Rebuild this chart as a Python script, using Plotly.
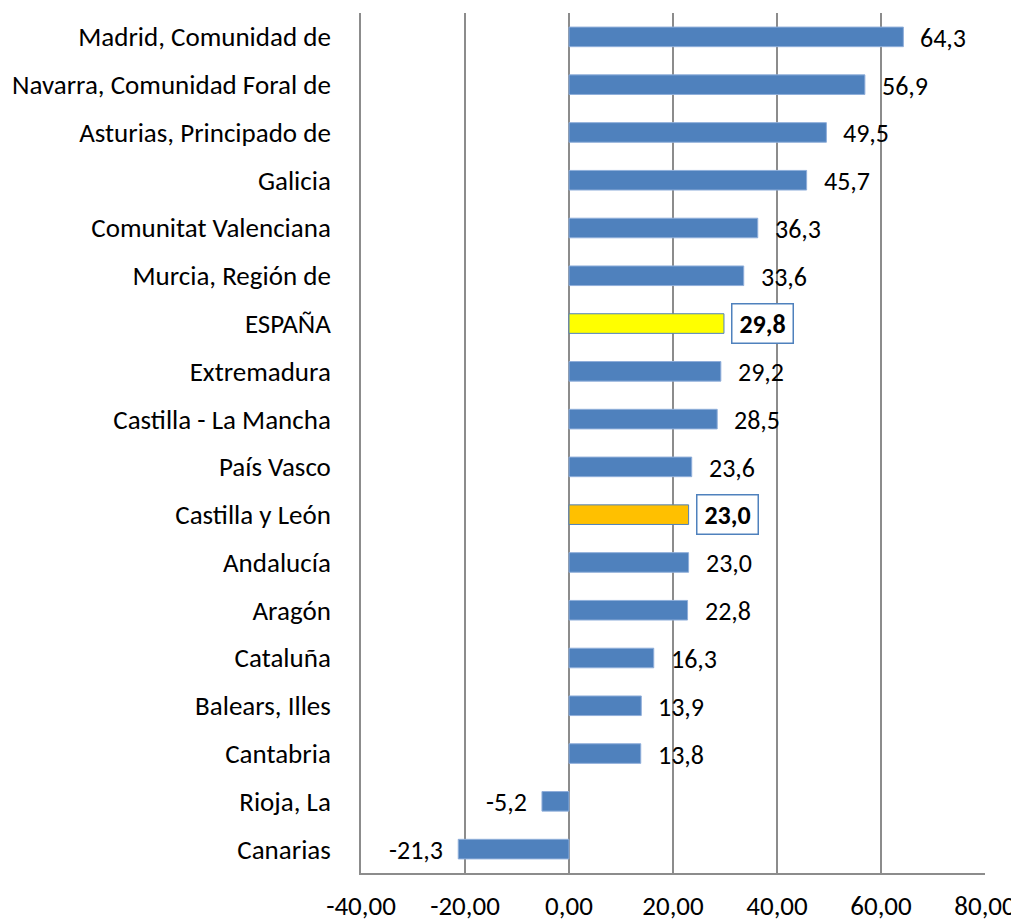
import plotly.graph_objects as go

regions = ["Madrid, Comunidad de", "Navarra, Comunidad Foral de", "Asturias, Principado de",
           "Galicia", "Comunitat Valenciana", "Murcia, Región de", "ESPAÑA", "Extremadura",
           "Castilla - La Mancha", "País Vasco", "Castilla y León", "Andalucía", "Aragón",
           "Cataluña", "Balears, Illes", "Cantabria", "Rioja, La", "Canarias"]
values = [64.3, 56.9, 49.5, 45.7, 36.3, 33.6, 29.8, 29.2, 28.5, 23.6, 23.0, 23.0, 22.8,
          16.3, 13.9, 13.8, -5.2, -21.3]
tick_vals = [-40, -20, 0, 20, 40, 60, 80]
tick_text = ["-40,00", "-20,00", "0,00", "20,00", "40,00", "60,00", "80,00"]

BLUE = "#4F81BD"
highlight = {"ESPAÑA": "#FFFF00", "Castilla y León": "#FFC000"}
FONT = "Carlito, Lato, sans-serif"
GRID = "#8C8C8C"

colors = [highlight.get(r, BLUE) for r in regions]
line_colors = [BLUE if r in highlight else "#8FAEDA" for r in regions]

fig = go.Figure(go.Bar(
    x=values, y=regions, orientation="h", width=0.41,
    marker=dict(color=colors, line=dict(color=line_colors, width=1)),
    hoverinfo="skip",
))

def fmt(v):
    return f"{v:.1f}".replace(".", ",")

for r, v in zip(regions, values):
    if r in highlight:
        fig.add_annotation(x=v, y=r, text=f"<b>{fmt(v)}</b>", showarrow=False,
                           xanchor="left", xshift=7, yshift=0, width=50, height=28,
                           font=dict(family=FONT, size=26, color="black"),
                           bordercolor=BLUE, borderwidth=1.5, borderpad=5, bgcolor="white")
    elif v >= 0:
        fig.add_annotation(x=v, y=r, text=fmt(v), showarrow=False,
                           xanchor="left", xshift=15, yshift=-1,
                           font=dict(family=FONT, size=26, color="black"))
    else:
        fig.add_annotation(x=v, y=r, text=fmt(v), showarrow=False,
                           xanchor="right", xshift=-13, yshift=-1,
                           font=dict(family=FONT, size=26, color="black"))

# the page body adds an 8px offset, so the figure is 8px smaller on each side
fig.update_layout(
    width=1011, height=911,
    margin=dict(l=353, r=34, t=5, b=46),
    paper_bgcolor="white", plot_bgcolor="white",
    font=dict(family=FONT, size=26, color="black"),
    showlegend=False,
    xaxis=dict(range=[-40, 80], tickvals=tick_vals, ticktext=tick_text,
               tickfont=dict(size=27),
               showgrid=True, gridcolor=GRID, gridwidth=1.5,
               zeroline=True, zerolinecolor=GRID, zerolinewidth=1.5,
               showline=True, linecolor=GRID, linewidth=1.5,
               ticks="", ticklabelstandoff=8, automargin=False, fixedrange=True),
    yaxis=dict(autorange="reversed", showgrid=False,
               showline=True, linecolor=GRID, linewidth=1.5,
               tickfont=dict(size=27),
               ticks="", ticklabelstandoff=23, automargin=False, fixedrange=True),
)

fig.write_html("out.html")
